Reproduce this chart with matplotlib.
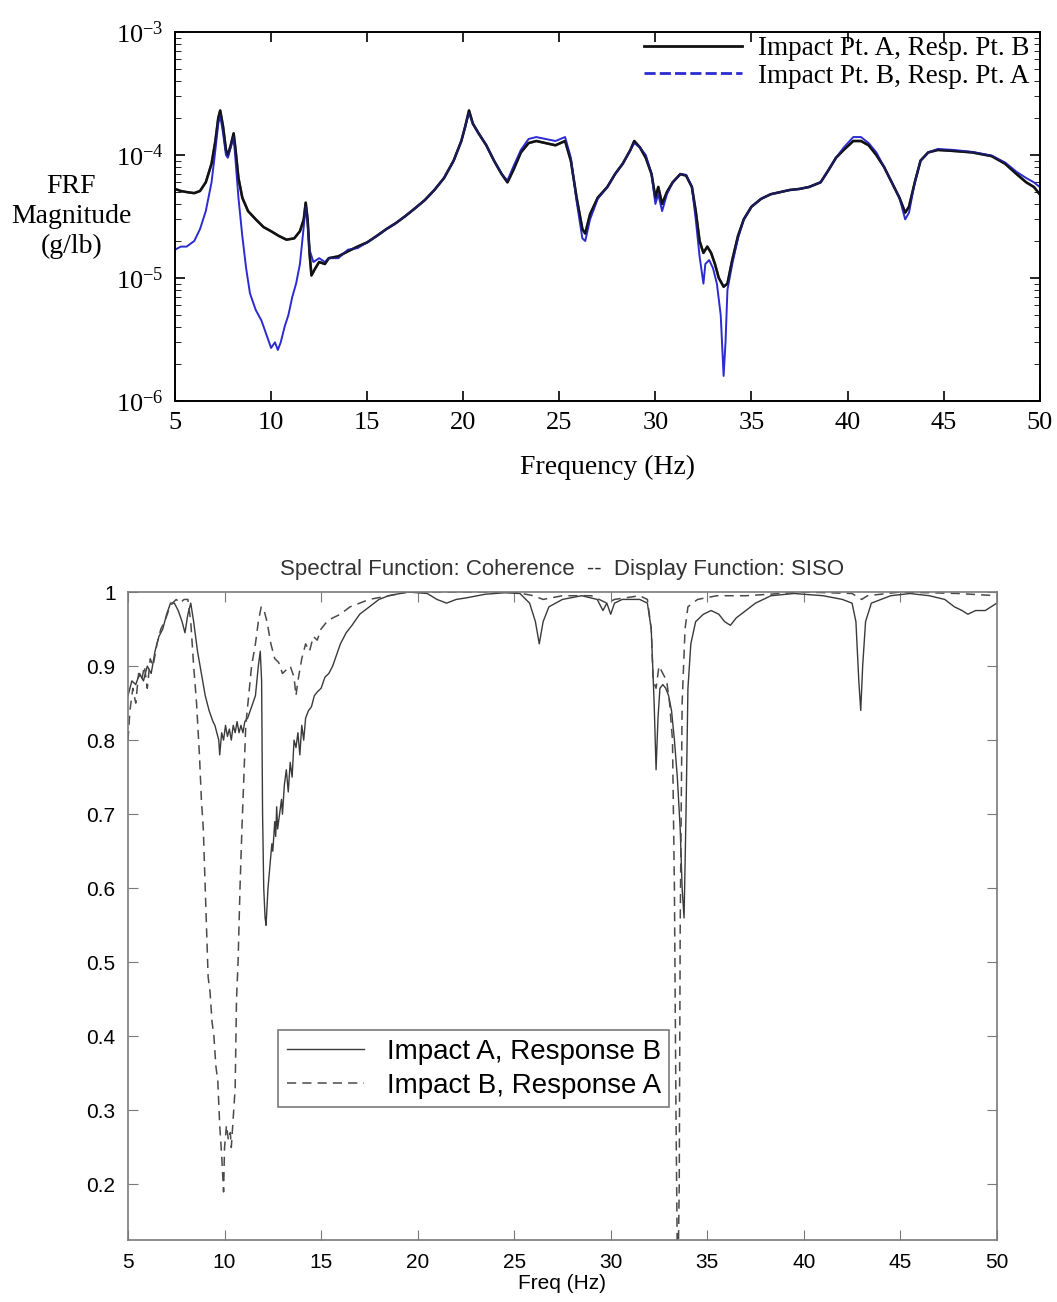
import numpy as np
import matplotlib
matplotlib.use("Agg")
import matplotlib.pyplot as plt
from matplotlib.lines import Line2D

# ---- top panel: FRF magnitude, values in 1e-5 g/lb ----
f_ab = [5.0, 5.3, 5.6, 6.0, 6.3, 6.6, 6.9, 7.1, 7.25, 7.35, 7.5, 7.65, 7.75, 7.9, 8.05, 8.15, 8.3, 8.5,
        8.8, 9.2, 9.6, 10.0, 10.4, 10.8, 11.2, 11.5, 11.7, 11.8, 11.9, 12.0, 12.1, 12.3, 12.5, 12.8, 13.0,
        13.5, 14.0, 14.5, 15.0, 15.5, 16.0, 16.5, 17.0, 17.5, 18.0, 18.5, 19.0, 19.5, 19.9, 20.1, 20.3,
        20.5, 20.8, 21.2, 21.6, 22.0, 22.3, 22.6, 23.0, 23.4, 23.8, 24.3, 24.8, 25.3, 25.6, 25.9, 26.2,
        26.35, 26.6, 27.0, 27.5, 27.9, 28.3, 28.7, 28.9, 29.2, 29.5, 29.8, 30.0, 30.15, 30.35, 30.6, 30.9,
        31.3, 31.6, 31.9, 32.1, 32.3, 32.5, 32.7, 32.9, 33.1, 33.3, 33.55, 33.75, 34.0, 34.3, 34.6, 35.0,
        35.5, 36.0, 36.5, 37.0, 37.5, 38.0, 38.6, 39.0, 39.4, 39.8, 40.3, 40.7, 41.1, 41.5, 41.9, 42.3,
        42.7, 43.0, 43.2, 43.5, 43.8, 44.2, 44.7, 45.5, 46.5, 47.5, 48.2, 48.8, 49.3, 49.7, 50.0]
mag_ab = [5.3, 5.1, 5.0, 4.9, 5.1, 6.0, 8.5, 13, 20, 23, 17, 11, 10, 12, 15, 11, 6.5, 4.5,
          3.5, 3.0, 2.6, 2.4, 2.2, 2.05, 2.1, 2.4, 3.0, 4.1, 3.0, 1.6, 1.05, 1.2, 1.35, 1.3, 1.45,
          1.5, 1.65, 1.8, 1.95, 2.2, 2.5, 2.8, 3.2, 3.7, 4.3, 5.2, 6.5, 9.0, 13, 17, 23,
          18, 15, 12, 9, 7.0, 6.0, 7.5, 10.5, 12.5, 13, 12.5, 12, 13, 9, 4.5, 2.5,
          2.3, 3.3, 4.5, 5.5, 7, 8.5, 11, 13, 11.5, 9.5, 7, 4.5, 5.5, 4.0, 5.0, 6.0,
          7.0, 6.8, 5.5, 3.5, 2.0, 1.6, 1.8, 1.6, 1.3, 1.0, 0.85, 0.9, 1.4, 2.2, 3.0, 3.8,
          4.4, 4.8, 5.0, 5.2, 5.3, 5.5, 6.0, 7.5, 9.5, 11, 13, 13, 12, 10, 8, 6,
          4.5, 3.4, 3.8, 6, 9, 10.5, 11, 10.8, 10.5, 9.8, 8.5, 7, 6, 5.5, 4.8]

f_ba = [5.0, 5.3, 5.6, 6.0, 6.3, 6.6, 6.9, 7.1, 7.25, 7.35, 7.5, 7.65, 7.75, 7.9, 8.05, 8.15, 8.3, 8.5,
        8.7, 8.9, 9.2, 9.5, 9.8, 10.0, 10.2, 10.35, 10.5, 10.7, 10.9, 11.1, 11.3, 11.5, 11.65, 11.8, 11.9,
        12.0, 12.2, 12.5, 12.8, 13.0, 13.5, 14.0, 14.5, 15.0, 15.5, 16.0, 16.5, 17.0, 17.5, 18.0, 18.5,
        19.0, 19.5, 19.9, 20.1, 20.3, 20.5, 20.8, 21.2, 21.6, 22.0, 22.3, 22.6, 23.0, 23.4, 23.8, 24.3,
        24.8, 25.3, 25.6, 25.9, 26.2, 26.35, 26.6, 27.0, 27.5, 27.9, 28.3, 28.7, 28.9, 29.2, 29.5, 29.8,
        30.0, 30.15, 30.35, 30.6, 30.9, 31.3, 31.6, 31.9, 32.1, 32.3, 32.5, 32.6, 32.8, 33.0, 33.2, 33.4,
        33.55, 33.65, 33.75, 34.0, 34.3, 34.6, 35.0, 35.5, 36.0, 36.5, 37.0, 37.5, 38.0, 38.6, 39.0, 39.4,
        39.8, 40.3, 40.7, 41.1, 41.5, 41.9, 42.3, 42.7, 43.0, 43.2, 43.5, 43.8, 44.2, 44.7, 45.5, 46.5,
        47.5, 48.2, 48.8, 49.3, 49.7, 50.0]
mag_ba = [1.7, 1.8, 1.8, 2.0, 2.5, 3.5, 6, 11, 18, 21, 15, 10, 9.5, 11.5, 14, 9, 4.5, 2.2,
          1.2, 0.75, 0.55, 0.45, 0.33, 0.27, 0.30, 0.26, 0.3, 0.4, 0.5, 0.7, 0.9, 1.3, 2.2, 3.8, 2.8,
          1.7, 1.35, 1.45, 1.35, 1.45, 1.45, 1.7, 1.75, 1.95, 2.2, 2.5, 2.8, 3.2, 3.7, 4.3, 5.2,
          6.5, 9.0, 13, 17, 22, 18, 15, 12, 9, 7.0, 6.2, 8, 11, 13.5, 14, 13.5,
          13, 14, 9.5, 4.2, 2.1, 2.0, 3.0, 4.4, 5.5, 7, 8.5, 11, 12.5, 11.5, 10, 7,
          4.0, 4.8, 3.5, 4.8, 6.0, 7.0, 6.9, 5.5, 3.0, 1.5, 0.9, 1.3, 1.4, 1.2, 0.9, 0.5,
          0.16, 0.3, 0.8, 1.3, 2.1, 3.0, 3.8, 4.4, 4.8, 5.0, 5.2, 5.3, 5.5, 6.0, 7.5, 9.5,
          11.5, 14, 14, 12.5, 10.5, 8, 6, 4.5, 3.0, 3.4, 6, 9, 10.5, 11.2, 11, 10.6,
          9.9, 8.7, 7.3, 6.5, 6.0, 5.5]

# ---- bottom panel: coherence ----
fc_ab = [5.0, 5.2, 5.4, 5.6, 5.8, 6.0, 6.2, 6.4, 6.6, 6.8, 7.0, 7.2, 7.4, 7.6, 7.8, 7.95, 8.1, 8.25,
         8.4, 8.6, 8.8, 9.0, 9.2, 9.4, 9.5, 9.6, 9.7, 9.75, 9.85, 9.95, 10.05, 10.15, 10.25, 10.35,
         10.45, 10.55, 10.65, 10.75, 10.85, 10.95, 11.05, 11.2, 11.4, 11.6, 11.75, 11.85, 11.92, 11.97,
         12.03, 12.1, 12.15, 12.25, 12.35, 12.45, 12.5, 12.6, 12.65, 12.7, 12.75, 12.85, 12.95, 13.0,
         13.1, 13.2, 13.3, 13.4, 13.5, 13.6, 13.7, 13.8, 13.9, 14.0, 14.1, 14.2, 14.35, 14.5, 14.65,
         14.8, 15.0, 15.2, 15.4, 15.6, 15.8, 16.0, 16.3, 16.6, 17.0, 17.5, 18.0, 18.5, 19.5, 20.5,
         21.0, 21.5, 22.0, 22.5, 23.5, 24.5, 25.3, 25.8, 26.1, 26.3, 26.5, 26.8, 27.5, 28.5, 29.3,
         29.6, 29.8, 30.0, 30.2, 30.6, 31.5, 31.9, 32.1, 32.25, 32.35, 32.45, 32.55, 32.7, 32.85,
         33.0, 33.15, 33.3, 33.45, 33.6, 33.7, 33.8, 33.9, 34.0, 34.15, 34.4, 34.8, 35.2, 35.6, 35.9,
         36.2, 36.5, 37.0, 37.5, 38.3, 39.5, 41.0, 42.0, 42.5, 42.7, 42.85, 42.95, 43.05, 43.2, 43.5,
         44.5, 45.5, 46.5, 47.3, 47.8, 48.2, 48.5, 48.9, 49.4, 50.0]
coh_ab = [0.86, 0.88, 0.875, 0.89, 0.88, 0.9, 0.89, 0.92, 0.94, 0.95, 0.97, 0.985, 0.985, 0.975, 0.96,
          0.945, 0.97, 0.985, 0.96, 0.92, 0.89, 0.86, 0.84, 0.825, 0.82, 0.81, 0.8, 0.78, 0.81, 0.8,
          0.82, 0.805, 0.815, 0.8, 0.82, 0.81, 0.825, 0.81, 0.82, 0.81, 0.825, 0.83, 0.845, 0.86, 0.9,
          0.92, 0.88, 0.7, 0.6, 0.56, 0.55, 0.6, 0.63, 0.66, 0.65, 0.69, 0.67, 0.71, 0.68, 0.7, 0.72,
          0.7, 0.74, 0.76, 0.73, 0.77, 0.75, 0.8, 0.79, 0.81, 0.78, 0.82, 0.8, 0.83, 0.84, 0.845, 0.86,
          0.865, 0.87, 0.885, 0.89, 0.9, 0.915, 0.93, 0.945, 0.955, 0.97, 0.98, 0.99, 0.995, 1.0, 0.998,
          0.99, 0.985, 0.99, 0.992, 0.997, 0.999, 0.998, 0.985, 0.96, 0.93, 0.96, 0.98, 0.99, 0.995,
          0.99, 0.975, 0.985, 0.97, 0.985, 0.99, 0.99, 0.985, 0.95, 0.85, 0.76, 0.83, 0.87, 0.875, 0.87,
          0.86, 0.84, 0.8, 0.75, 0.68, 0.6, 0.56, 0.7, 0.87, 0.93, 0.96, 0.97, 0.975, 0.97, 0.96,
          0.955, 0.965, 0.975, 0.985, 0.995, 0.998, 0.995, 0.99, 0.985, 0.96, 0.88, 0.84, 0.9, 0.96,
          0.985, 0.995, 0.998, 0.995, 0.99, 0.98, 0.975, 0.97, 0.975, 0.975, 0.985]

fc_ba = [5.0, 5.1, 5.25, 5.4, 5.55, 5.7, 5.85, 6.0, 6.15, 6.3, 6.5, 6.7, 6.9, 7.1, 7.3, 7.5, 7.7, 7.9,
         8.1, 8.25, 8.4, 8.55, 8.7, 8.8, 8.9, 9.0, 9.1, 9.15, 9.25, 9.35, 9.45, 9.55, 9.65, 9.75, 9.85,
         9.95, 10.0, 10.1, 10.2, 10.3, 10.35, 10.45, 10.55, 10.62, 10.7, 10.8, 10.9, 11.0, 11.1, 11.25,
         11.4, 11.6, 11.75, 11.9, 12.05, 12.2, 12.4, 12.6, 12.8, 13.0, 13.2, 13.4, 13.6, 13.7, 13.8,
         14.0, 14.2, 14.4, 14.6, 14.8, 15.0, 15.3, 15.6, 16.0, 16.5, 17.0, 17.5, 18.5, 19.5, 25.0, 26.0,
         26.5, 27.5, 29.0, 29.8, 30.2, 31.5, 31.9, 32.1, 32.2, 32.35, 32.5, 32.7, 32.9, 33.05, 33.2,
         33.3, 33.38, 33.45, 33.5, 33.55, 33.6, 33.7, 33.85, 34.0, 34.5, 35.5, 37.0, 40.0, 42.5, 43.0,
         43.3, 45.0, 48.0, 50.0]
coh_ba = [0.8, 0.84, 0.87, 0.85, 0.89, 0.88, 0.9, 0.87, 0.91, 0.9, 0.93, 0.95, 0.96, 0.975, 0.985,
          0.99, 0.985, 0.99, 0.99, 0.96, 0.9, 0.85, 0.78, 0.72, 0.68, 0.6, 0.52, 0.48, 0.46, 0.42, 0.4,
          0.36, 0.34, 0.28, 0.24, 0.19, 0.25, 0.28, 0.26, 0.27, 0.25, 0.29, 0.33, 0.45, 0.5, 0.6, 0.68,
          0.75, 0.82, 0.86, 0.9, 0.93, 0.96, 0.98, 0.975, 0.96, 0.93, 0.91, 0.905, 0.89, 0.895, 0.9,
          0.885, 0.86, 0.88, 0.91, 0.93, 0.92, 0.94, 0.935, 0.95, 0.96, 0.965, 0.97, 0.98, 0.985, 0.99,
          0.995, 1.0, 1.0, 0.995, 0.99, 0.995, 0.995, 0.985, 0.99, 0.995, 0.99, 0.95, 0.88, 0.87, 0.9,
          0.89, 0.88, 0.85, 0.8, 0.6, 0.3, 0.1, 0.1, 0.2, 0.55, 0.85, 0.95, 0.98, 0.99, 0.995, 0.995,
          1.0, 0.998, 0.99, 0.995, 1.0, 0.998, 0.995]

fig = plt.figure(figsize=(10.57, 13.02), dpi=100)

# ---------------- top ----------------
serif = ["Liberation Serif", "DejaVu Serif"]
plt.rcParams["mathtext.fontset"] = "stix"
ax1 = fig.add_axes([0.1656, 0.692, 0.818, 0.2834])
ax1.plot(f_ab, np.array(mag_ab) * 1e-5, color="#111111", lw=1.8)
ax1.plot(f_ba, np.array(mag_ba) * 1e-5, color="#2b2bd0", lw=1.4)
ax1.plot(f_ab, np.array(mag_ab) * 1e-5, color="#111111", lw=1.8, alpha=0.6)
ax1.set_yscale("log")
ax1.set_xlim(5, 50)
ax1.set_ylim(1e-6, 1e-3)
ax1.set_xticks(np.arange(5, 51, 5))
ax1.tick_params(which="both", direction="in", top=True, right=True, labelsize=19, pad=8)
ax1.tick_params(which="major", length=7, width=1.2)
ax1.tick_params(which="minor", length=4)
for lab in ax1.get_xticklabels() + ax1.get_yticklabels():
    lab.set_family(serif)
for s in ax1.spines.values():
    s.set_linewidth(1.4)
ax1.set_xlabel("Frequency (Hz)", family=serif, fontsize=20, labelpad=15)
ax1.set_ylabel("FRF\nMagnitude\n(g/lb)", family=serif, fontsize=20, rotation=0,
               ha="center", va="center", linespacing=1.25)
ax1.yaxis.set_label_coords(-0.12, 0.5)
handles = [Line2D([], [], color="#111111", lw=2),
           Line2D([], [], color="#2b2bd0", lw=2, ls=(0, (4, 1.5)))]
ax1.legend(handles, ["Impact Pt. A, Resp. Pt. B", "Impact Pt. B, Resp. Pt. A"],
           loc="upper right", bbox_to_anchor=(0.993, 1.0), frameon=False,
           prop={"family": serif, "size": 19.5},
           handlelength=3.6, handletextpad=0.6, labelspacing=0.1,
           borderaxespad=0.0, borderpad=0.15)

# ---------------- bottom ----------------
sans = ["Liberation Sans Narrow", "Liberation Sans", "DejaVu Sans"]
grey = "#7a7a7a"
ax2 = fig.add_axes([0.1211, 0.0476, 0.822, 0.4977])
ax2.plot(fc_ab, coh_ab, color="#3a3a3a", lw=1.0, label="Impact A, Response B")
ax2.plot(fc_ba, coh_ba, color="#4a4a4a", lw=1.1, ls=(0, (6, 4)), label="Impact B, Response A")
ax2.set_xlim(5, 50)
ax2.set_ylim(0.125, 1.0)
ax2.set_xticks(np.arange(5, 51, 5))
ax2.set_yticks([0.2, 0.3, 0.4, 0.5, 0.6, 0.7, 0.8, 0.9, 1.0])
ax2.set_yticklabels(["0.2", "0.3", "0.4", "0.5", "0.6", "0.7", "0.8", "0.9", "1"])
ax2.tick_params(direction="in", top=True, right=True, length=7, color=grey,
                labelsize=15, pad=9)
for lab in ax2.get_xticklabels() + ax2.get_yticklabels():
    lab.set_family(sans)
for s in ax2.spines.values():
    s.set_color(grey)
    s.set_linewidth(1.2)
ax2.set_xlabel("Freq (Hz)", family=sans, fontsize=15, labelpad=2)
ax2.set_title("Spectral Function: Coherence  --  Display Function: SISO",
              family=sans, fontsize=16, color="#333333", pad=12)
leg = ax2.legend(loc="lower left", bbox_to_anchor=(0.173, 0.205), fancybox=False,
                 edgecolor=grey, framealpha=1,
                 prop={"family": ["Liberation Sans", "DejaVu Sans"], "size": 20},
                 handlelength=2.8, handletextpad=0.8, labelspacing=0.3, borderpad=0.3,
                 borderaxespad=0.0)
leg.get_frame().set_linewidth(1.2)

fig.savefig("out.png", dpi=100)
